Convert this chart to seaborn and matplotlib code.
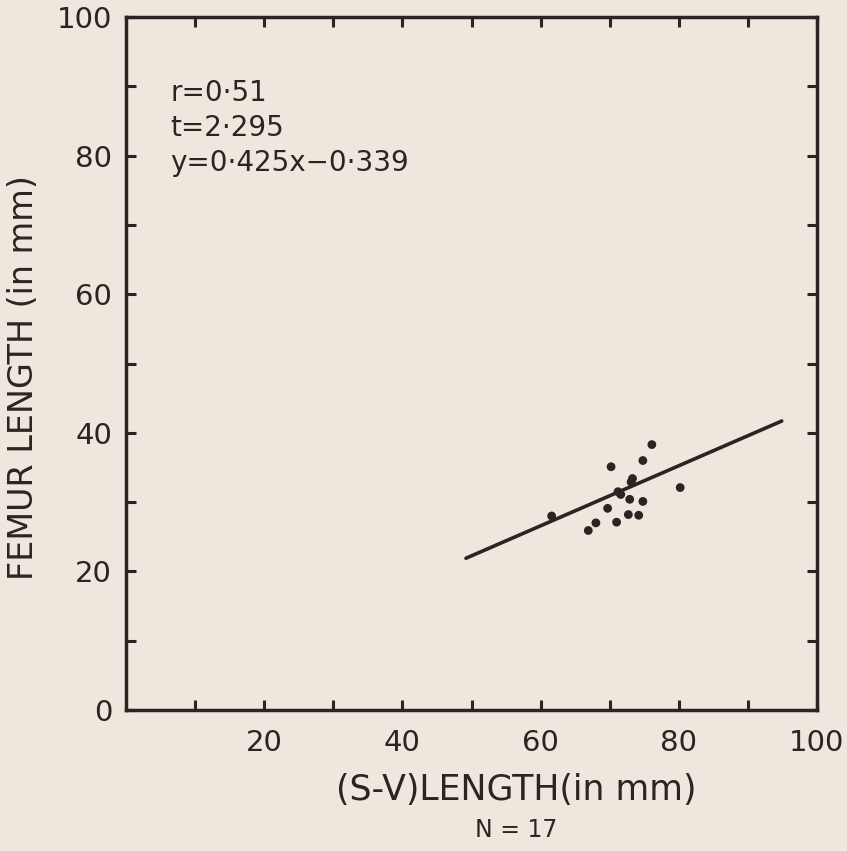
import matplotlib
matplotlib.use("Agg")
import matplotlib.pyplot as plt
import seaborn as sns
import pandas as pd

# Data
sv_length = [61.6, 70.2, 76.1, 74.8, 73.1, 71.6, 72.9, 74.8, 80.2, 69.7,
             72.7, 74.2, 68.0, 71.0, 66.9, 73.3, 71.2]
femur_length = [28.0, 35.1, 38.3, 36.0, 32.9, 31.1, 30.4, 30.1, 32.1, 29.1,
                 28.2, 28.1, 27.0, 27.1, 25.9, 33.4, 31.5]
line_x = [49.2, 94.9]
line_y = [21.9, 41.7]
x_ticks = [20, 40, 60, 80, 100]
y_ticks = [0, 20, 40, 60, 80, 100]
stats_lines = ["r=0·51", "t=2·295", "y=0·425x−0·339"]

sns.set_theme(style="ticks")
plt.rcParams['font.family'] = ['DejaVu Sans']

bg = "#efe7dd"
ink = "#2a2422"

fig = plt.figure(figsize=(8.47, 8.51), dpi=100, facecolor=bg)
ax = fig.add_axes([126/847, 1 - 710/851, 691/847, 693/851], facecolor=bg)

df = pd.DataFrame({"x": sv_length, "y": femur_length})
sns.scatterplot(data=df, x="x", y="y", ax=ax, color=ink, s=40, edgecolor="none", zorder=3)
sns.lineplot(x=line_x, y=line_y, ax=ax, color=ink, linewidth=2.6, zorder=2)

ax.set_xlim(0, 100)
ax.set_ylim(0, 100)
ax.set_xticks(range(10, 101, 10))
ax.set_xticklabels([str(v) if v in x_ticks else "" for v in range(10, 101, 10)])
ax.set_yticks(range(0, 101, 10))
ax.set_yticklabels([str(v) if v in y_ticks else "" for v in range(0, 101, 10)])
ax.tick_params(axis="both", which="both", direction="in", length=7, width=2.2,
               color=ink, labelcolor=ink, top=True, right=True, labelsize=21)
ax.tick_params(axis="x", pad=14)
ax.tick_params(axis="y", pad=10)
for sp in ax.spines.values():
    sp.set_visible(True)
    sp.set_linewidth(2.5)
    sp.set_color(ink)

ax.set_xlabel("")
ax.set_ylabel("FEMUR LENGTH (in mm)", fontsize=24, color=ink)
ax.yaxis.set_label_coords(-0.125, 0.48)

fig.text(0.61, 1 - 790/851, "(S-V)LENGTH(in mm)", fontsize=25, color=ink,
         ha="center", va="center")
fig.text(0.61, 1 - 830/851, "N = 17", fontsize=17, color=ink, ha="center", va="center")

ys = [93, 128, 163]
for s, yy in zip(stats_lines, ys):
    fig.text(170/847, 1 - yy/851, s, fontsize=20, color=ink, ha="left", va="center")

fig.savefig("out.png", dpi=100, facecolor=bg)
